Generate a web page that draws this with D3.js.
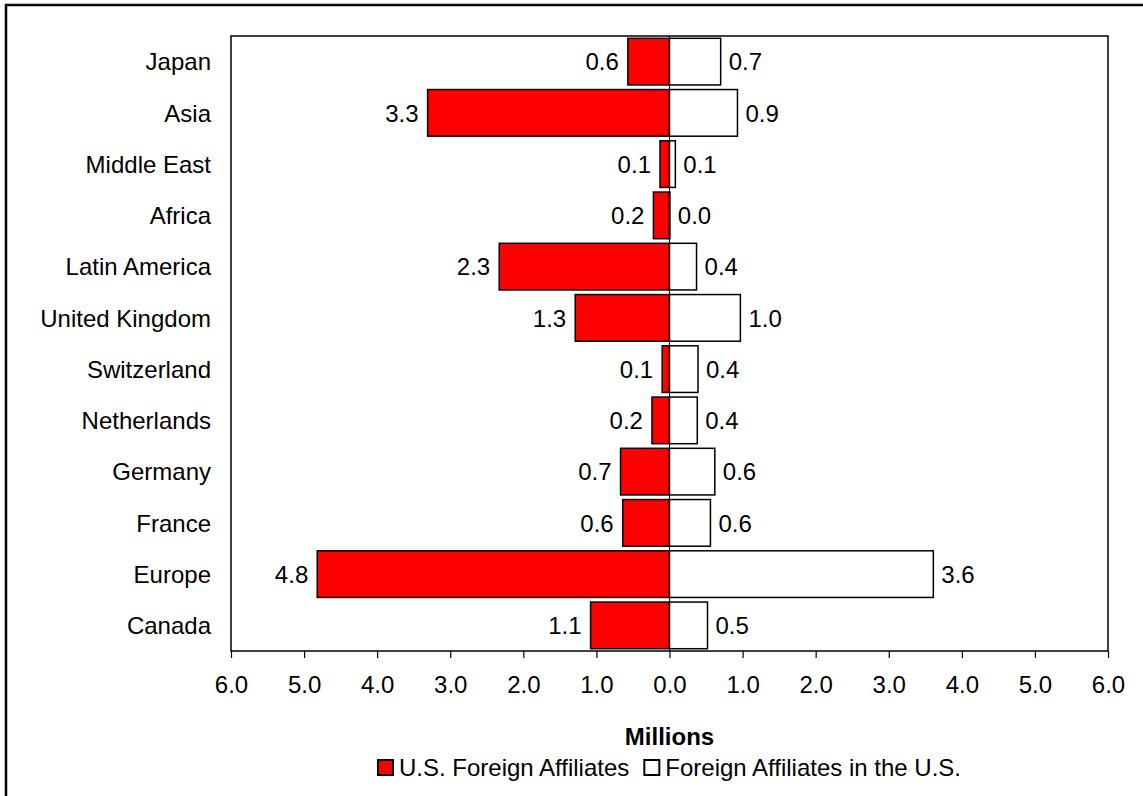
<!DOCTYPE html>
<html>
<head>
<meta charset="utf-8">
<script src="https://cdn.jsdelivr.net/npm/d3@7"></script>
<style>
  body { margin: 0; background: #fff; }
  svg text { font-family: Arial, "Liberation Sans", sans-serif; font-size: 24px; fill: #000; }
</style>
</head>
<body>
<svg id="chart" width="1143" height="796"></svg>
<script>
// regions, top to bottom
const regions = ['Japan', 'Asia', 'Middle East', 'Africa', 'Latin America', 'United Kingdom',
  'Switzerland', 'Netherlands', 'Germany', 'France', 'Europe', 'Canada'];
// employment in millions
const usAffiliates = [0.57, 3.31, 0.13, 0.22, 2.33, 1.29, 0.10, 0.24, 0.67, 0.64, 4.82, 1.08];
const foreignAffiliates = [0.70, 0.93, 0.08, 0.004, 0.37, 0.97, 0.39, 0.38, 0.62, 0.56, 3.61, 0.52];
const tickValues = [-6, -5, -4, -3, -2, -1, 0, 1, 2, 3, 4, 5, 6];
const seriesNames = ['U.S. Foreign Affiliates', 'Foreign Affiliates in the U.S.'];
const seriesColors = ['#ff0000', '#ffffff'];

const fmt = d3.format('.1f');
const plot = {left: 231, right: 1108, top: 36, bottom: 651};

const svg = d3.select('#chart');

// outer chart border (runs off the right and bottom of the picture)
svg.append('rect')
  .attr('x', 6).attr('y', 5)
  .attr('width', 1160).attr('height', 820)
  .attr('fill', 'none')
  .attr('stroke', '#000')
  .attr('stroke-width', 2.5);

const x = d3.scaleLinear()
  .domain([-6, 6])
  .range([plot.left, plot.right]);

const y = d3.scaleBand()
  .domain(regions)
  .range([plot.top, plot.bottom])
  .paddingInner(0.09)
  .paddingOuter(0.045);

const rows = regions.map((r, i) => ({region: r, us: usAffiliates[i], foreign: foreignAffiliates[i]}));

// zero line
svg.append('line')
  .attr('x1', x(0)).attr('x2', x(0))
  .attr('y1', plot.top).attr('y2', plot.bottom)
  .attr('stroke', '#000')
  .attr('stroke-width', 1);

const group = svg.selectAll('g.row')
  .data(rows)
  .enter().append('g')
  .attr('class', 'row');

group.append('rect')
  .attr('x', d => x(-d.us))
  .attr('y', d => y(d.region))
  .attr('width', d => x(0) - x(-d.us))
  .attr('height', y.bandwidth())
  .attr('fill', seriesColors[0])
  .attr('stroke', '#000')
  .attr('stroke-width', 1.5);

group.append('rect')
  .attr('x', x(0))
  .attr('y', d => y(d.region))
  .attr('width', d => x(d.foreign) - x(0))
  .attr('height', y.bandwidth())
  .attr('fill', seriesColors[1])
  .attr('stroke', '#000')
  .attr('stroke-width', 1.5);

group.append('text')
  .attr('x', d => x(-d.us) - 9)
  .attr('y', d => y(d.region) + y.bandwidth() / 2)
  .attr('dy', '0.36em')
  .attr('text-anchor', 'end')
  .text(d => fmt(d.us));

group.append('text')
  .attr('x', d => x(d.foreign) + 8)
  .attr('y', d => y(d.region) + y.bandwidth() / 2)
  .attr('dy', '0.36em')
  .text(d => fmt(d.foreign));

// category labels
svg.selectAll('text.cat')
  .data(regions)
  .enter().append('text')
  .attr('class', 'cat')
  .attr('x', 211)
  .attr('y', d => y(d) + y.bandwidth() / 2)
  .attr('dy', '0.36em')
  .attr('text-anchor', 'end')
  .text(d => d);

// plot frame
svg.append('rect')
  .attr('x', plot.left).attr('y', plot.top)
  .attr('width', plot.right - plot.left)
  .attr('height', plot.bottom - plot.top)
  .attr('fill', 'none')
  .attr('stroke', '#000')
  .attr('stroke-width', 1.5);

// x axis
const xAxis = svg.append('g')
  .attr('transform', `translate(0,${plot.bottom})`)
  .call(d3.axisBottom(x)
    .tickValues(tickValues)
    .tickSize(7)
    .tickPadding(18)
    .tickFormat(d => fmt(Math.abs(d))));
xAxis.select('.domain').remove();
xAxis.selectAll('line').attr('stroke', '#000').attr('stroke-width', 1.2);
xAxis.selectAll('text')
  .attr('font-size', null)
  .attr('font-family', null)
  .style('font-size', '24px');

svg.append('text')
  .attr('x', x(0))
  .attr('y', 745)
  .attr('text-anchor', 'middle')
  .attr('font-weight', 'bold')
  .text('Millions');

// legend, centred under the plot
const legend = svg.append('g');
let lx = 0;
seriesNames.forEach((name, i) => {
  legend.append('rect')
    .attr('x', lx).attr('y', -16)
    .attr('width', 15).attr('height', 15)
    .attr('fill', seriesColors[i])
    .attr('stroke', '#000')
    .attr('stroke-width', 2);
  const t = legend.append('text')
    .attr('x', lx + 21)
    .attr('y', 0)
    .text(name);
  lx += 21 + t.node().getComputedTextLength() + 15;
});
const legendWidth = lx - 15;
legend.attr('transform', `translate(${x(0) - legendWidth / 2},776)`);
</script>
</body>
</html>
